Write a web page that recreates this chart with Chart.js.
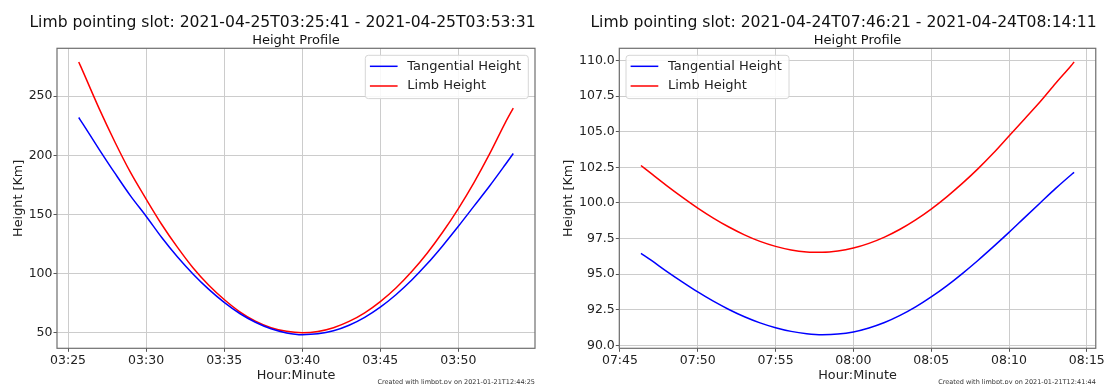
<!DOCTYPE html>
<html>
<head>
<meta charset="utf-8">
<script src="https://cdn.jsdelivr.net/npm/chart.js@4.4.1/dist/chart.umd.min.js"></script>
<style>
  html, body { margin: 0; padding: 0; background: #fff; overflow: hidden; }
  .wrap { position: absolute; top: 0; width: 553px; height: 384px; }
</style>
</head>
<body>
<div class="wrap" style="left:0"><canvas id="leftChart"></canvas></div>
<div class="wrap" style="left:553px"><canvas id="rightChart"></canvas></div>
<script>
// left slot: 2021-04-25, sampled every minute (plus the slot ends)
const leftTimes = ['03:25:41', '03:26', '03:27', '03:28', '03:29', '03:30', '03:31', '03:32', '03:33', '03:34',
  '03:35', '03:36', '03:37', '03:38', '03:39', '03:40', '03:41', '03:42', '03:43', '03:44',
  '03:45', '03:46', '03:47', '03:48', '03:49', '03:50', '03:51', '03:52', '03:53', '03:53:31'];
const leftTangential = [232, 225.5, 204.9, 184.9, 165.7, 148.5, 130.5, 114.2, 99.7, 86.8,
  75.6, 66.2, 58.8, 53.3, 49.8, 48.3, 49.0, 51.6, 56.3, 63.0,
  71.6, 82.1, 94.3, 108.2, 123.6, 140.0, 157.0, 174.0, 192.0, 201.5];
const leftLimb = [279.0, 269.5, 239.3, 211.3, 185.5, 163.0, 141.5, 122.3, 104.9, 90.3,
  78.0, 67.6, 59.7, 54.2, 51.1, 50.0, 51.0, 54.2, 59.5, 66.8,
  76.3, 87.8, 101.5, 117.2, 135.1, 155.0, 177.0, 201.2, 227.5, 240.0];
const leftXTicks = ['03:25', '03:30', '03:35', '03:40', '03:45', '03:50'];
const leftYTicks = [50, 100, 150, 200, 250];

// right slot: 2021-04-24
const rightTimes = ['07:46:21', '07:47', '07:48', '07:49', '07:50', '07:51', '07:52', '07:53', '07:54', '07:55',
  '07:56', '07:57', '07:58', '07:59', '08:00', '08:01', '08:02', '08:03', '08:04', '08:05',
  '08:06', '08:07', '08:08', '08:09', '08:10', '08:11', '08:12', '08:13', '08:14', '08:14:11'];
const rightTangential = [96.46, 95.98, 95.20, 94.46, 93.75, 93.10, 92.52, 92.01, 91.58, 91.24,
  90.98, 90.82, 90.75, 90.79, 90.94, 91.22, 91.60, 92.10, 92.70, 93.40,
  94.18, 95.04, 95.96, 96.93, 97.93, 98.97, 100.00, 101.02, 101.98, 102.14];
const rightLimb = [102.63, 102.07, 101.22, 100.41, 99.64, 98.94, 98.31, 97.76, 97.30, 96.95,
  96.70, 96.56, 96.53, 96.62, 96.83, 97.16, 97.60, 98.15, 98.81, 99.57,
  100.43, 101.37, 102.39, 103.5, 104.7, 105.9, 107.1, 108.4, 109.65, 109.9];
const rightXTicks = ['07:45', '07:50', '07:55', '08:00', '08:05', '08:10', '08:15'];
const rightYTicks = [90.0, 92.5, 95.0, 97.5, 100.0, 102.5, 105.0, 107.5, 110.0];

Chart.defaults.font.family = 'DejaVu Sans';
Chart.defaults.color = '#222';

function toSec(s) {
  const p = s.split(':').map(Number);
  return p[0] * 3600 + p[1] * 60 + (p[2] || 0);
}
const two = n => String(n).padStart(2, '0');
function hhmm(v) {
  const m = Math.round(v / 60);
  return two(Math.floor(m / 60)) + ':' + two(m % 60);
}

// figure title, frame, axes title, inset legend and the "created with" footer
const decor = {
  id: 'decor',
  afterDatasetsDraw(chart) {
    const { ctx, chartArea: a } = chart;
    ctx.save();
    ctx.strokeStyle = '#6e6e6e';
    ctx.lineWidth = 1.2;
    ctx.strokeRect(a.left, a.top, a.right - a.left, a.bottom - a.top);
    ctx.restore();
  },
  afterDraw(chart, args, opts) {
    const { ctx, chartArea: a } = chart;
    ctx.save();
    ctx.fillStyle = '#111';
    ctx.textAlign = 'center';
    ctx.textBaseline = 'middle';
    ctx.font = '15.6px "DejaVu Sans"';
    ctx.fillText(opts.title, opts.titleX, 22.5);
    ctx.font = '13px "DejaVu Sans"';
    ctx.fillText(opts.subtitle, (a.left + a.right) / 2, a.top - 8);

    // legend box
    const bw = 163, bh = 43.3;
    const bx = opts.legendSide === 'left' ? a.left + 6.7 : a.right - 6.7 - bw;
    const by = a.top + 7;
    ctx.beginPath();
    ctx.roundRect(bx, by, bw, bh, 3);
    ctx.fillStyle = 'rgba(255,255,255,0.85)';
    ctx.fill();
    ctx.strokeStyle = '#d6d6d6';
    ctx.lineWidth = 1;
    ctx.stroke();
    ctx.font = '13px "DejaVu Sans"';
    ctx.textAlign = 'left';
    chart.data.datasets.forEach((ds, i) => {
      const ly = by + 11 + i * 19.7;
      ctx.beginPath();
      ctx.moveTo(bx + 4.6, ly);
      ctx.lineTo(bx + 32.3, ly);
      ctx.strokeStyle = ds.borderColor;
      ctx.lineWidth = 1.5;
      ctx.stroke();
      ctx.fillStyle = '#222';
      ctx.fillText(ds.label, bx + 42, ly);
    });

    ctx.font = '6.5px "DejaVu Sans"';
    ctx.textAlign = 'right';
    ctx.textBaseline = 'alphabetic';
    ctx.fillStyle = '#333';
    ctx.fillText(opts.footer, a.right, 383.5);
    ctx.restore();
  }
};

function buildChart(id, o) {
  const xs = o.times.map(toSec);
  const xPad = (xs[xs.length - 1] - xs[0]) * 0.05;
  const all = o.tangential.concat(o.limb);
  const yLo = Math.min(...all), yHi = Math.max(...all);
  const yPad = (yHi - yLo) * 0.05;
  const line = (label, vals, color) => ({
    label,
    data: xs.map((x, i) => ({ x, y: vals[i] })),
    borderColor: color,
    borderWidth: 1.5,
    pointRadius: 0,
    cubicInterpolationMode: 'monotone',
    fill: false
  });

  return new Chart(document.getElementById(id), {
    type: 'line',
    data: {
      datasets: [
        line('Tangential Height', o.tangential, '#0000ff'),
        line('Limb Height', o.limb, '#ff0000')
      ]
    },
    options: {
      responsive: true,
      maintainAspectRatio: false,
      animation: false,
      layout: { padding: { left: 0, right: o.padRight, top: 48.3, bottom: 0 } },
      plugins: {
        legend: { display: false },
        tooltip: { enabled: false },
        decor: {
          title: o.title, titleX: o.titleX, subtitle: 'Height Profile',
          footer: o.footer, legendSide: o.legendSide
        }
      },
      scales: {
        x: {
          type: 'linear',
          min: xs[0] - xPad,
          max: xs[xs.length - 1] + xPad,
          afterBuildTicks: s => { s.ticks = o.xTicks.map(t => ({ value: toSec(t) })); },
          afterFit: s => { s.height = 35.7; },
          ticks: { callback: v => hhmm(v), font: { size: 12.5 }, color: '#222', padding: 1, maxRotation: 0 },
          grid: { color: '#cccccc', tickColor: '#555', tickLength: 3.5 },
          border: { display: false },
          title: { display: true, text: 'Hour:Minute', font: { size: 12.8 }, color: '#222', padding: { top: 0, bottom: 1 } }
        },
        y: {
          min: yLo - yPad,
          max: yHi + yPad,
          afterBuildTicks: s => { s.ticks = o.yTicks.map(v => ({ value: v })); },
          afterFit: s => { s.width = o.axisWidth; },
          ticks: { callback: v => v.toFixed(o.yDecimals), font: { size: 12.5 }, color: '#222', padding: 1 },
          grid: { color: '#cccccc', tickColor: '#555', tickLength: 3.5 },
          border: { display: false },
          title: { display: true, text: 'Height [Km]', font: { size: 12.8 }, color: '#222', padding: { top: o.yTitlePad, bottom: 0 } }
        }
      }
    },
    plugins: [decor]
  });
}

buildChart('leftChart', {
  title: 'Limb pointing slot: 2021-04-25T03:25:41 - 2021-04-25T03:53:31',
  titleX: 282.5,
  footer: 'Created with limbpt.py on 2021-01-21T12:44:25',
  times: leftTimes, tangential: leftTangential, limb: leftLimb,
  xTicks: leftXTicks, yTicks: leftYTicks, yDecimals: 0,
  axisWidth: 57, padRight: 18, yTitlePad: 11, legendSide: 'right'
});

buildChart('rightChart', {
  title: 'Limb pointing slot: 2021-04-24T07:46:21 - 2021-04-24T08:14:11',
  titleX: 290.5,
  footer: 'Created with limbpt.py on 2021-01-21T12:41:44',
  times: rightTimes, tangential: rightTangential, limb: rightLimb,
  xTicks: rightXTicks, yTicks: rightYTicks, yDecimals: 1,
  axisWidth: 66.3, padRight: 9.3, yTitlePad: 8, legendSide: 'left'
});
</script>
</body>
</html>
